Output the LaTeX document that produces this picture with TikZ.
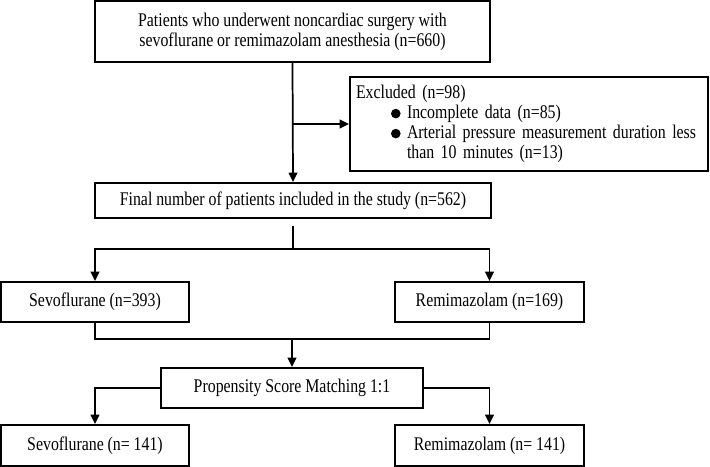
\documentclass[tikz,border=0pt]{standalone}
\usepackage{fontspec}
\setmainfont{Liberation Serif}[FakeStretch=0.82]
\usetikzlibrary{arrows.meta}
\newcommand{\bigdot}{\makebox[12pt][l]{\tikz[baseline=-3.8pt]\fill (0,0) circle (3.6pt);}}
\newcommand{\tightspace}{\spaceskip=2.9pt plus 1pt minus 0.5pt\relax}

\begin{document}
\begin{tikzpicture}[x=0.75pt,y=0.75pt,
  box/.style={draw,line width=1.4pt,inner sep=0pt,align=center},
  arr/.style={-{Triangle[length=7pt,width=6.5pt]}},
  font=\fontsize{14.5pt}{15pt}\selectfont\tightspace,
  line width=1.3pt]
\useasboundingbox (0,0) rectangle (710,-467);

\node[box,minimum width=296.25pt,minimum height=45.75pt] (top) at (292.5,-31.5)
  {Patients who underwent noncardiac surgery with\\sevoflurane or remimazolam anesthesia (n=660)};
\node[box,minimum width=268.5pt,minimum height=70.5pt,text width=259.5pt,inner xsep=4.5pt,align=left] (excl) at (529,-124)
  {Excluded (n=98)\\
   \mbox{\hspace*{26.25pt}\bigdot Incomplete data (n=85)}\\
   \mbox{\hspace*{26.25pt}\bigdot Arterial pressure measurement duration less}\\
   \mbox{\hspace*{38.25pt}than 10 minutes (n=13)}};
\node[box,minimum width=297pt,minimum height=26.25pt] (final) at (293,-200.5)
  {Final number of patients included in the study (n=562)};
\node[box,minimum width=141pt,minimum height=30pt] (sevo) at (95,-302) {Sevoflurane (n=393)};
\node[box,minimum width=141.75pt,minimum height=30pt] (remi) at (489.5,-302) {Remimazolam (n=169)};
\node[box,minimum width=196.5pt,minimum height=30pt] (psm) at (292,-388) {Propensity Score Matching 1:1};
\node[box,minimum width=141pt,minimum height=30.75pt] (sevo2) at (95,-445.5) {Sevoflurane (n= 141)};
\node[box,minimum width=141.75pt,minimum height=30.75pt] (remi2) at (489.5,-445.5) {Remimazolam (n= 141)};

\coordinate (fork) at (293,-249);
\coordinate (join) at (292,-339);

\draw[arr] (top.south) -- (final.north);
\draw[arr] (top.south |- excl.west) -- (excl.west);
\draw[shorten <=5pt] (final.south) -- (fork);
\draw[arr] (fork) -| (sevo.north);
\draw[arr] (fork) -| (remi.north);
\draw (sevo.south) |- (join);
\draw (remi.south) |- (join);
\draw[arr] (join) -- (psm.north);
\draw[arr] (psm.west) -| (sevo2.north);
\draw[arr] (psm.east) -| (remi2.north);
\end{tikzpicture}
\end{document}
